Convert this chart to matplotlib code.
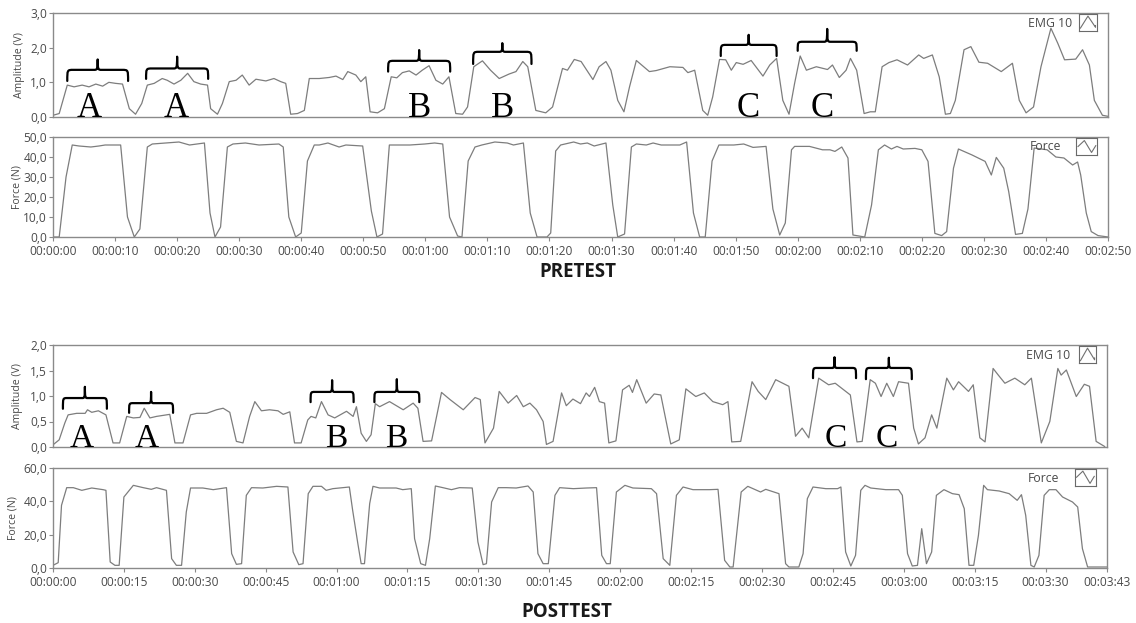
import matplotlib
matplotlib.use("Agg")
import matplotlib.pyplot as plt
import numpy as np
from matplotlib.path import Path
from matplotlib.patches import PathPatch

plt.rcParams["font.family"] = ["Open Sans", "DejaVu Sans"]

# ---- PRETEST data (seconds, value) ----
pre_emg_t = [0, 1, 2.3, 3.4, 4.7, 5.8, 6.9, 8, 9, 10.1, 11.2, 12.3, 13.3, 14.3, 15.2, 16.3, 17.6, 18.4,
             19.5, 20.6, 21.7, 22.7, 23.8, 24.9, 25.4, 26.5, 27.3, 28.4, 29.5, 30.5, 31.6, 32.7, 34.3,
             35.6, 36.7, 37.5, 38.3, 39.4, 40.5, 41.3, 42.9, 44.5, 45.6, 46.7, 47.5, 48.8, 49.6, 50.4,
             51.1, 52.3, 53.4, 54.5, 55.4, 56.3, 57.4, 58.5, 59.5, 60.6, 61.7, 62.8, 63.8, 64.9, 66,
             66.8, 67.8, 69.2, 70.5, 71.9, 73.5, 74.6, 75.7, 76.5, 77.8, 79.4, 80.5, 82.1, 82.9, 84,
             85.1, 87, 88, 89.1, 89.9, 91, 92, 92.9, 94, 96.1, 97.2, 99.4, 101.5, 102.3, 103.4, 104.7,
             105.5, 106.3, 107.4, 108.4, 109.3, 110.1, 111.2, 112.5, 114.4, 115.5, 116.6, 117.6, 118.6,
             119.5, 120.4, 121.4, 123, 124.8, 125.6, 126.7, 127.8, 128.5, 129.5, 130.7, 131.7, 132.5,
             133.6, 134.7, 136, 137.7, 139.5, 140.3, 141.7, 142.8, 143.8, 144.6, 145.4, 146.8, 147.9,
             149.2, 150.6, 152.8, 154.6, 155.7, 156.8, 158, 159.2, 160.8, 161.9, 163, 164.8, 165.9,
             167, 167.8, 169.1, 170]
pre_emg_v = [0.05, 0.1, 0.92, 0.87, 0.92, 0.87, 0.95, 0.89, 1.0, 0.97, 0.95, 0.24, 0.08, 0.39, 0.92, 0.97,
             1.11, 1.06, 0.95, 1.06, 1.26, 1.02, 0.95, 0.92, 0.24, 0.08, 0.39, 1.02, 1.06, 1.21, 0.92,
             1.09, 1.04, 1.11, 1.02, 0.97, 0.08, 0.1, 0.19, 1.11, 1.11, 1.14, 1.18, 1.08, 1.31, 1.21,
             1.02, 1.16, 0.15, 0.12, 0.24, 1.16, 1.13, 1.28, 1.33, 1.21, 1.35, 1.48, 1.06, 0.95, 1.16,
             0.1, 0.08, 0.29, 1.45, 1.62, 1.35, 1.11, 1.24, 1.31, 1.6, 1.45, 0.19, 0.12, 0.29, 1.4,
             1.35, 1.66, 1.6, 1.08, 1.45, 1.6, 1.35, 0.48, 0.15, 0.87, 1.63, 1.31, 1.34, 1.45, 1.43,
             1.28, 1.35, 0.19, 0.05, 0.58, 1.66, 1.65, 1.35, 1.57, 1.52, 1.63, 1.18, 1.5, 1.69, 0.48,
             0.08, 0.97, 1.76, 1.35, 1.45, 1.37, 1.5, 1.14, 1.35, 1.69, 1.35, 0.1, 0.15, 0.15, 1.45,
             1.57, 1.65, 1.5, 1.79, 1.69, 1.79, 1.16, 0.08, 0.1, 0.48, 1.94, 2.03, 1.58, 1.55, 1.31,
             1.55, 0.48, 0.12, 0.29, 1.45, 2.56, 2.13, 1.65, 1.67, 1.94, 1.5, 0.48, 0.05, 0.02]

pre_force_t = [0, 1, 2.1, 3.1, 4.2, 6.1, 7.4, 8.4, 10.9, 12, 13.1, 14, 15.2, 16, 18.2, 20.3, 22, 24.4,
               25.3, 26.1, 27, 28.1, 29, 31, 33.2, 36.4, 37.1, 38, 39.1, 40, 41, 42.1, 42.9, 44.3, 46.1,
               47.2, 49.9, 51.3, 52.2, 53.1, 54.2, 55.5, 57.5, 59.9, 61.5, 62.8, 63.9, 65.2, 65.9, 66.9,
               68, 69.1, 71.2, 73.2, 74.2, 75.8, 76.9, 78, 79.6, 80.2, 81, 81.8, 83.9, 85, 86.1, 87.2,
               89.1, 90.2, 91, 92.1, 93.2, 94, 95.6, 96.7, 98, 101, 102.1, 103.2, 104.2, 105.1, 106.2,
               107.3, 109.7, 111.3, 112.8, 114.9, 116, 117.1, 118, 119, 119.5, 121.9, 124, 125.2, 126,
               127.1, 128.1, 128.9, 130.8, 131.9, 133, 134, 135.1, 136, 137, 138.9, 140, 141, 142.1,
               143.2, 144, 145.1, 145.9, 148.1, 150.2, 151.2, 152, 153.2, 154, 155.1, 156.2, 157.1,
               158.1, 160.2, 161.6, 162.9, 164.3, 165.1, 165.6, 166.5, 167.3, 168.4, 170]
pre_force_v = [0, 0, 30, 46, 45.5, 45, 45.5, 46, 46, 10, 0, 4, 45, 46.5, 47, 47.5, 46, 47, 12, 0, 5, 45,
               46.5, 47, 46, 46.5, 45, 10, 0, 2, 38, 46, 46, 47, 45, 46, 45.5, 13, 0, 1.5, 46, 46, 46,
               46.5, 47, 46.5, 10, 0.5, 0, 38, 45, 46, 47.5, 47, 46, 47, 12, 0, 0, 2, 43, 46, 47.5,
               46.5, 47, 45.5, 47, 16, 0, 1.5, 45, 46.5, 46, 47, 46, 46, 47.5, 12, 0, 0, 38, 46, 46,
               46.5, 44.8, 45.3, 14, 1, 7, 43.6, 45.3, 45.3, 43.6, 43.6, 42.8, 45, 39.5, 1, 0, 16,
               43.6, 46, 44, 45.3, 44, 44.3, 43.6, 37.8, 1.8, 0.7, 2.7, 34.4, 44, 41, 37.8, 31, 39.8,
               34.4, 22.7, 1.3, 1.8, 14, 44.5, 43.6, 40, 39.5, 36, 37.5, 31, 12, 2.7, 0.7, 0]

# ---- POSTTEST data (seconds, value) ----
post_emg_t = [0.1, 1.3, 2.5, 3.2, 5, 6.8, 7.3, 8.2, 9.6, 10.6, 11.2, 12.7, 14.1, 15.6, 17, 18.4, 19.3,
              20.5, 21.9, 23.3, 24.7, 25.8, 27.5, 29.1, 30.4, 32.5, 34.6, 36, 37.4, 38.8, 40.2, 41.6,
              42.7, 44.1, 45.8, 47.6, 48.7, 50.1, 51.1, 52.5, 53.9, 54.6, 55.6, 56.8, 58.2, 59.6, 62.1,
              63.5, 64.2, 65.2, 66.3, 67.3, 68.2, 69.1, 71.2, 74.1, 76.2, 77.2, 78.3, 80.1, 82.2, 84,
              86.8, 89.3, 90.4, 91.4, 93.2, 94.4, 96.3, 98.1, 99.5, 100.9, 102.3, 103.7, 104.4, 105.8,
              107.6, 108.6, 110, 111.6, 112.8, 113.5, 114.6, 115.6, 116.7, 117.6, 119.1, 120.5, 121.9,
              122.6, 123.5, 125.5, 127.2, 128.6, 130.7, 132.5, 133.9, 136, 137.8, 139.6, 141.7, 142.8,
              143.6, 145.5, 147.9, 149.2, 150.8, 152.9, 155.7, 157.1, 158.5, 159.9, 162, 164.1, 165.5,
              168.7, 170.1, 171.2, 172.9, 174, 175.2, 176.4, 177.8, 178.9, 181, 182.1, 183.1, 184.5,
              185.9, 187, 189.1, 190.5, 191.6, 193.7, 194.7, 196.1, 197.2, 198.9, 200, 201.4, 203.5,
              205.6, 207, 209.1, 210.9, 212.6, 213.3, 214.4, 216.5, 218.2, 219.3, 220.7, 222.5]
post_emg_v = [0.05, 0.14, 0.47, 0.63, 0.66, 0.66, 0.73, 0.68, 0.71, 0.66, 0.63, 0.08, 0.08, 0.6, 0.57,
              0.58, 0.76, 0.57, 0.6, 0.62, 0.64, 0.08, 0.08, 0.63, 0.66, 0.66, 0.73, 0.76, 0.68, 0.11,
              0.08, 0.6, 0.89, 0.71, 0.73, 0.71, 0.64, 0.69, 0.08, 0.08, 0.53, 0.6, 0.57, 0.89, 0.63,
              0.57, 0.7, 0.6, 0.79, 0.27, 0.11, 0.24, 0.85, 0.79, 0.89, 0.73, 0.86, 0.76, 0.11, 0.12,
              1.07, 0.93, 0.73, 0.97, 0.93, 0.08, 0.37, 1.09, 0.86, 1.01, 0.79, 0.86, 0.73, 0.5, 0.05,
              0.11, 1.06, 0.81, 0.94, 0.85, 1.06, 0.99, 1.17, 0.89, 0.86, 0.08, 0.12, 1.12, 1.21, 1.07,
              1.32, 0.86, 1.04, 1.02, 0.06, 0.14, 1.14, 0.99, 1.06, 0.89, 0.83, 0.89, 0.1, 0.11, 1.28,
              1.09, 0.93, 1.32, 1.19, 0.21, 0.37, 0.18, 1.35, 1.22, 1.25, 1.02, 0.1, 0.11, 1.32, 1.25,
              0.99, 1.25, 0.99, 1.28, 1.25, 0.37, 0.06, 0.18, 0.63, 0.37, 1.35, 1.12, 1.28, 1.09, 1.22,
              0.18, 0.1, 1.54, 1.41, 1.25, 1.35, 1.22, 1.35, 0.08, 0.5, 1.54, 1.41, 1.51, 0.99, 1.23,
              1.19, 0.11, 0.01]

post_force_t = [0, 1.1, 1.8, 2.9, 4.3, 6.1, 8.2, 10.6, 11.2, 12.1, 13.1, 14, 15, 17, 19.1, 20.8, 21.9, 24,
                25.1, 26.1, 27.2, 28.2, 29.1, 31.7, 33.9, 36.7, 37.8, 38.8, 39.9, 40.9, 42, 44.4, 47.3,
                49.7, 50.8, 52, 52.9, 54, 55, 56.8, 57.8, 59.2, 62.7, 63.4, 64.5, 65.2, 65.9, 67, 67.7,
                69.1, 72.6, 74, 75.8, 76.5, 77.8, 78.8, 79.7, 80.9, 82.5, 84.3, 86, 88.7, 89.9, 91, 91.7,
                92.8, 94.2, 95.9, 98, 100.5, 101.6, 102.6, 103.7, 104.8, 106.2, 107.2, 110.1, 112.9, 115,
                116.1, 117.1, 117.9, 119.2, 121, 122.7, 126.6, 127.7, 129.1, 130.5, 131.9, 133.3, 135.4,
                138.9, 140.7, 142.1, 143.2, 143.9, 145.6, 147, 149.7, 150.8, 153.6, 155, 155.7, 157.8,
                158.7, 159.6, 160.8, 163.5, 166, 166.7, 167.7, 168.8, 169.8, 170.9, 171.8, 173, 176.2,
                178.9, 179.7, 180.8, 181.8, 182.9, 183.8, 184.8, 185.9, 186.9, 188.5, 190.3, 191.7, 192.8,
                193.8, 194.8, 195.8, 196.9, 197.7, 200.2, 202.3, 204, 204.9, 205.8, 206.9, 207.6, 208.6,
                209.7, 210.8, 212.2, 213.6, 215.7, 216.8, 217.8, 218.9, 223]
post_force_v = [1.6, 3.2, 37.6, 48.2, 48.2, 46.6, 48, 47, 46.6, 3.6, 1.6, 1.6, 42.6, 49.6, 48.2, 47.2, 48.2,
                46.6, 5.6, 1.6, 1.6, 33.6, 48, 48, 47, 48.2, 8.6, 2.2, 2.6, 43.6, 48.2, 48, 49, 48.6, 9.6,
                2, 2.6, 44.6, 49, 49, 46.6, 47.6, 48.6, 34.6, 14.6, 2.6, 2.6, 38.6, 49, 48, 48, 47, 47.6,
                17.6, 2.6, 1.6, 17.6, 49.2, 48.2, 47, 48.2, 48, 15.6, 2, 2.6, 39.6, 48.2, 48.2, 48, 49.2,
                45.6, 8.6, 2.6, 2.6, 43.6, 48.2, 47.6, 48, 48.2, 7.6, 2.6, 2.6, 45.6, 49.6, 48, 47.6,
                44.6, 5.6, 1.6, 43.6, 48.6, 47, 47, 47.2, 4.6, 0.6, 0.6, 45.6, 49, 45.6, 47.2, 44.6, 2.6,
                0.6, 0.6, 8.6, 41.6, 48.6, 47.6, 47.6, 48.6, 9.6, 1.2, 7.6, 46.6, 49.6, 48, 47, 47, 43.6,
                8.6, 1.2, 1.6, 23.6, 2.6, 9.6, 43.6, 47, 44.6, 44, 35.6, 1.6, 1.6, 19.6, 49.6, 47, 46.2,
                44.6, 40.6, 44, 31.6, 1.6, 0.6, 7.6, 43.6, 47, 47, 42.6, 39.6, 36.6, 11.6, 0.6, 0.6]

# ---- annotations: label, brace start/end (s), brace end/bar/tip heights (V), letter centre (s) ----
pre_marks = [("A", 2.3, 12.1, 1.04, 1.36, 1.66, 5.8),
             ("A", 15.0, 25.0, 1.10, 1.40, 1.74, 19.8),
             ("B", 54.0, 64.0, 1.31, 1.62, 1.93, 59.0),
             ("B", 67.7, 77.1, 1.53, 1.88, 2.13, 72.4),
             ("C", 107.6, 116.6, 1.76, 2.08, 2.37, 112.0),
             ("C", 120.0, 129.5, 1.91, 2.17, 2.54, 124.0)]
post_marks = [("A", 2.1, 11.4, 0.75, 0.96, 1.18, 6.1),
              ("A", 16.1, 25.4, 0.67, 0.86, 1.08, 19.9),
              ("B", 54.5, 63.6, 0.88, 1.08, 1.31, 60.0),
              ("B", 68.0, 77.5, 0.88, 1.08, 1.33, 72.7),
              ("C", 160.8, 169.9, 1.35, 1.55, 1.76, 165.6),
              ("C", 172.0, 181.7, 1.33, 1.55, 1.75, 176.4)]

W, H = 1136, 623
LINE = "#7d7d7d"
SPINE = "#8a8a8a"
TXT = "#4a4a4a"


def box(l, t, r, b):
    return [l / W, 1 - b / H, (r - l) / W, (b - t) / H]


def hms(s, pos=None):
    s = int(round(s))
    return f"{s // 3600:02d}:{s % 3600 // 60:02d}:{s % 60:02d}"


def comma(v, pos=None):
    return f"{v:.1f}".replace(".", ",")


def style(ax, xmax, ymax, ystep, ylabel, labelx, xticks=None):
    ax.set_xlim(0, xmax)
    ax.set_ylim(0, ymax)
    ax.set_yticks(np.arange(0, ymax + ystep / 2, ystep))
    ax.yaxis.set_major_formatter(comma)
    if xticks is None:
        ax.set_xticks([])
    else:
        ax.set_xticks(xticks)
        ax.xaxis.set_major_formatter(hms)
    for sp in ax.spines.values():
        sp.set_color(SPINE)
        sp.set_linewidth(1.0)
    ax.tick_params(direction="out", length=3, width=0.8, color=SPINE, labelcolor=TXT, labelsize=8.6)
    ax.tick_params(axis="y", pad=1.2)
    ax.tick_params(axis="x", pad=2.5)
    ax.set_ylabel(ylabel, fontsize=7.6, color=TXT)
    ax.yaxis.set_label_coords(labelx, 0.5)


def legend(ax, label, textx, boxpos, icon_x, icon_y):
    ax.text(textx, 0.9, label, transform=ax.transAxes, ha="right", va="center", fontsize=8.8, color=TXT)
    ia = ax.inset_axes(boxpos)
    ia.plot(icon_x, icon_y, color="#707070", lw=0.8)
    ia.set_xlim(0, 1)
    ia.set_ylim(0, 1)
    ia.set_xticks([])
    ia.set_yticks([])
    for sp in ia.spines.values():
        sp.set_color("#6a6a6a")
        sp.set_linewidth(0.8)


def brace(ax, t0, t1, y_end, y_bar, y_tip):
    w = t1 - t0
    tm = (t0 + t1) / 2
    r = 0.1 * w
    verts = [(t0, y_end),
             (t0, y_bar), (t0, y_bar), (t0 + r, y_bar),
             (tm - 0.6 * r, y_bar),
             (tm - 0.1 * r, y_bar), (tm, y_bar), (tm, y_tip),
             (tm, y_bar), (tm + 0.1 * r, y_bar), (tm + 0.6 * r, y_bar),
             (t1 - r, y_bar),
             (t1, y_bar), (t1, y_bar), (t1, y_end)]
    codes = [Path.MOVETO] + [Path.CURVE4] * 3 + [Path.LINETO] + [Path.CURVE4] * 6 + \
            [Path.LINETO] + [Path.CURVE4] * 3
    ax.add_patch(PathPatch(Path(verts, codes), fill=False, color="black", lw=1.6,
                           capstyle="round", joinstyle="round"))


def marks(ax, items, size):
    for label, t0, t1, y_end, y_bar, y_tip, tc in items:
        brace(ax, t0, t1, y_end, y_bar, y_tip)
        ax.text(tc, 0.0, label, fontsize=size, family=["Liberation Serif", "DejaVu Serif"],
                ha="center", va="baseline", color="black")


fig = plt.figure(figsize=(W / 100, H / 100), dpi=100)

emg_icon = ([0.08, 0.5, 0.92, 0.92], [0.15, 0.85, 0.2, 0.3])
force_icon = ([0.08, 0.38, 0.72, 0.92], [0.5, 0.85, 0.15, 0.55])

# PRETEST
ax1 = fig.add_axes(box(53, 13, 1108, 117))
ax1.plot(pre_emg_t, pre_emg_v, color=LINE, lw=0.9)
style(ax1, 170, 3, 1, "Amplitude (V)", -0.027)
marks(ax1, pre_marks, 25)
legend(ax1, "EMG 10", 0.966, [0.9725, 0.83, 0.017, 0.165], *emg_icon)

ax2 = fig.add_axes(box(53, 137, 1108, 237))
ax2.plot(pre_force_t, pre_force_v, color=LINE, lw=0.9)
style(ax2, 170, 50, 10, "Force (N)", -0.029, xticks=np.arange(0, 171, 10))
legend(ax2, "Force", 0.956, [0.970, 0.82, 0.020, 0.17], *force_icon)

fig.text(578 / W, 1 - 272 / H, "PRETEST", ha="center", va="center", fontsize=13.5,
         fontweight="bold", color="#1a1a1a")

# POSTTEST
ax3 = fig.add_axes(box(53, 345, 1107, 447))
ax3.plot(post_emg_t, post_emg_v, color=LINE, lw=0.9)
style(ax3, 223, 2, 0.5, "Amplitude (V)", -0.028)
marks(ax3, post_marks, 24)
legend(ax3, "EMG 10", 0.965, [0.9735, 0.82, 0.016, 0.175], *emg_icon)

ax4 = fig.add_axes(box(53, 468, 1107, 568))
ax4.plot(post_force_t, post_force_v, color=LINE, lw=0.9)
style(ax4, 223, 60, 20, "Force (N)", -0.033, xticks=list(range(0, 211, 15)) + [223])
legend(ax4, "Force", 0.955, [0.9695, 0.82, 0.020, 0.175], *force_icon)

fig.text(567 / W, 1 - 612 / H, "POSTTEST", ha="center", va="center", fontsize=13.5,
         fontweight="bold", color="#1a1a1a")

fig.savefig("out.png", dpi=100)
